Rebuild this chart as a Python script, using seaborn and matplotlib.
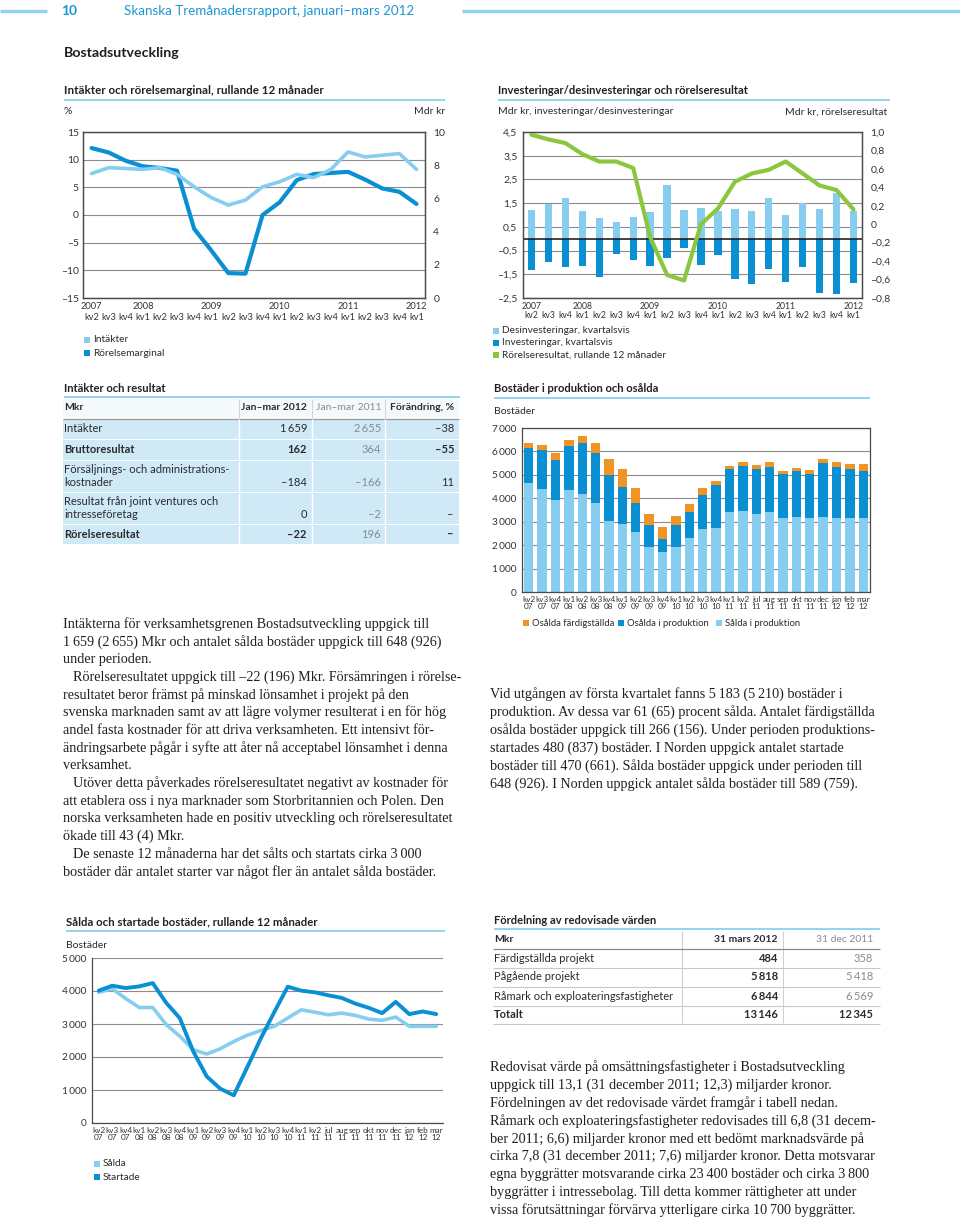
import numpy as np
import pandas as pd
import matplotlib
matplotlib.use("Agg")
import matplotlib.pyplot as plt
import seaborn as sns
from matplotlib.patches import Rectangle
from matplotlib.lines import Line2D

# ---------------- data ----------------
quarters20 = ["kv2", "kv3", "kv4", "kv1", "kv2", "kv3", "kv4", "kv1", "kv2", "kv3",
              "kv4", "kv1", "kv2", "kv3", "kv4", "kv1", "kv2", "kv3", "kv4", "kv1"]
year_marks20 = {0: "2007", 3: "2008", 7: "2009", 11: "2010", 15: "2011", 19: "2012"}

intakter_mdr = [7.5, 7.85, 7.8, 7.75, 7.85, 7.45, 6.7, 6.05, 5.6, 5.9,
                6.7, 7.0, 7.45, 7.25, 7.75, 8.8, 8.5, 8.6, 8.7, 7.75]
rorelsemarginal = [12.1, 11.3, 9.8, 8.8, 8.5, 8.0, -2.5, -6.4, -10.5, -10.6,
                   0.0, 2.3, 6.3, 7.4, 7.6, 7.8, 6.4, 4.8, 4.2, 2.0]

desinvesteringar = [1.2, 1.45, 1.7, 1.17, 0.87, 0.69, 0.9, 1.12, 2.27, 1.22,
                    1.29, 1.15, 1.24, 1.18, 1.72, 0.98, 1.5, 1.25, 1.92, 1.18]
investeringar = [-1.3, -0.98, -1.19, -1.13, -1.62, -0.64, -0.88, -1.13, -0.81, -0.39,
                 -1.09, -0.67, -1.69, -1.89, -1.26, -1.83, -1.19, -2.28, -2.35, -1.86]
rorelseresultat = [0.97, 0.92, 0.88, 0.76, 0.68, 0.68, 0.61, -0.14, -0.55, -0.61,
                   0.0, 0.17, 0.46, 0.55, 0.59, 0.68, 0.55, 0.42, 0.37, 0.16]

period_names = ["kv2", "kv3", "kv4", "kv1", "kv2", "kv3", "kv4", "kv1", "kv2", "kv3",
                "kv4", "kv1", "kv2", "kv3", "kv4", "kv1", "kv2", "jul", "aug", "sep",
                "okt", "nov", "dec", "jan", "feb", "mar"]
period_years = ["07", "07", "07", "08", "08", "08", "08", "09", "09", "09",
                "09", "10", "10", "10", "10", "11", "11", "11", "11", "11",
                "11", "11", "11", "12", "12", "12"]

salda_i_produktion = [4650, 4380, 3930, 4350, 4180, 3780, 3010, 2890, 2580, 1940,
                      1700, 1910, 2300, 2680, 2750, 3430, 3460, 3320, 3400, 3150,
                      3220, 3150, 3220, 3150, 3150, 3162]
osalda_i_produktion = [1500, 1670, 1700, 1870, 2160, 2160, 1980, 1600, 1210, 900,
                       570, 930, 1100, 1460, 1820, 1820, 1930, 1930, 1950, 1870,
                       1940, 1870, 2270, 2170, 2100, 2021]
osalda_fardigstallda = [200, 220, 310, 280, 330, 440, 670, 740, 630, 490,
                        500, 410, 360, 280, 180, 140, 160, 170, 200, 160,
                        140, 170, 170, 230, 230, 266]

salda_12m = [3960, 4070, 3770, 3500, 3500, 2980, 2630, 2220, 2090, 2250,
             2470, 2660, 2800, 2930, 3180, 3430, 3360, 3280, 3330, 3260,
             3150, 3110, 3210, 2930, 2930, 2930]
startade_12m = [4010, 4160, 4090, 4140, 4240, 3640, 3180, 2170, 1410, 1040,
                840, 1690, 2560, 3360, 4130, 4010, 3960, 3870, 3790, 3620,
                3490, 3330, 3670, 3300, 3380, 3300]

tbl1_labels = ["Intäkter", "Bruttoresultat", "Försäljnings- och administrations-\nkostnader",
               "Resultat från joint ventures och\nintresseföretag", "Rörelseresultat"]
tbl1_2012 = ["1\u2009659", "162", "–184", "0", "–22"]
tbl1_2011 = ["2\u2009655", "364", "–166", "–2", "196"]
tbl1_change = ["–38", "–55", "11", "–", "–"]
tbl1_bold = [False, True, False, False, True]

tbl2_labels = ["Färdigställda projekt", "Pågående projekt", "Råmark och exploateringsfastigheter", "Totalt"]
tbl2_2012 = ["484", "5\u2009818", "6\u2009844", "13\u2009146"]
tbl2_2011 = ["358", "5\u2009418", "6\u2009569", "12\u2009345"]

# ---------------- style ----------------
W, H = 960, 1217
sns.set_theme(style="white")
SANS = ["Lato", "DejaVu Sans"]
SERIF = ["Liberation Serif", "DejaVu Serif"]
plt.rcParams["font.family"] = SANS

LIGHT = "#86cdef"
DARK = "#0a8fd3"
GREEN = "#8cc63e"
ORANGE = "#f29423"
GRID = "#8c8c8c"
FRAME = "#4a4a4a"
ULINE = "#93d3ef"
TBG = "#cfe9f7"
TXT = "#2b2b2b"
GREY = "#8a8a8a"
HEAD = "#1b96d3"

fig = plt.figure(figsize=(W / 100, H / 100), dpi=100)
fig.patch.set_facecolor("white")
renderer = fig.canvas.get_renderer()


def fx(x):
    return x / W


def fy(y):
    return 1 - y / H


def add_ax(x0, y0, x1, y1):
    return fig.add_axes([x0 / W, 1 - y1 / H, (x1 - x0) / W, (y1 - y0) / H])


def measure(s, size, family=SANS, weight="normal"):
    t = fig.text(0, 0, s, fontsize=size, family=family, fontweight=weight)
    w = t.get_window_extent(renderer=renderer).width
    t.remove()
    return w


def fit(s, target, family=SANS, weight="normal"):
    return 10 * target / measure(s, 10, family, weight)


def txt(x, y, s, size=7.5, weight="normal", color=TXT, ha="left", va="center", family=SANS, **kw):
    return fig.text(fx(x), fy(y), s, fontsize=size, fontweight=weight, color=color,
                    ha=ha, va=va, family=family, **kw)


def hline(x0, x1, y, color, lw):
    fig.add_artist(Line2D([fx(x0), fx(x1)], [fy(y), fy(y)], color=color, lw=lw,
                          transform=fig.transFigure, solid_capstyle="butt"))


def vline(x, y0, y1, color, lw):
    fig.add_artist(Line2D([fx(x), fx(x)], [fy(y0), fy(y1)], color=color, lw=lw,
                          transform=fig.transFigure, solid_capstyle="butt"))


def rect(x0, y0, x1, y1, color):
    fig.add_artist(Rectangle((fx(x0), fy(y1)), (x1 - x0) / W, (y1 - y0) / H,
                             facecolor=color, edgecolor="none", transform=fig.transFigure))


def legend_item(x, y, color, label, size=7.3):
    rect(x, y - 3, x + 6, y + 3, color)
    txt(x + 9, y, label, size=size)


def title(x, y, s, w, x_end):
    txt(x, y, s, size=fit(s, w, weight="bold"), weight="bold", color="#222222")
    hline(x, x_end, y + 9, ULINE, 1.4)


def box(ax):
    for sp in ax.spines.values():
        sp.set_visible(True)
        sp.set_color(FRAME)
        sp.set_linewidth(0.9)


# ---------------- header ----------------
hline(0, 47, 10.5, ULINE, 2.4)
hline(462, 960, 10.5, ULINE, 2.4)
txt(61, 11, "10", size=fit("10", 16, weight="bold"), weight="bold", color=HEAD)
s = "Skanska Tremånadersrapport, januari–mars 2012"
txt(124, 11, s, size=fit(s, 289), color=HEAD)
txt(64, 53, "Bostadsutveckling", size=fit("Bostadsutveckling", 116, weight="bold"),
    weight="bold", color="#1e1e1e")

# ---------------- chart 1 ----------------
title(64, 91, "Intäkter och rörelsemarginal, rullande 12 månader", 258, 445)
txt(64, 112, "%", size=7.5)
txt(445, 112, "Mdr kr", size=7.5, ha="right")
ax1 = add_ax(83, 132, 425, 298)
x20 = np.arange(20)
df1 = pd.DataFrame({"x": x20, "marg": rorelsemarginal, "int": intakter_mdr})
sns.lineplot(data=df1, x="x", y="marg", ax=ax1, color=DARK, lw=3.0)
ax1.set_ylim(-15, 15)
ax1.set_xlim(-0.5, 19.5)
ax1.set_yticks([-15, -10, -5, 0, 5, 10, 15])
ax1.set_yticklabels(["–15", "–10", "–5", "0", "5", "10", "15"])
ax1.yaxis.grid(True, color=GRID, lw=0.8)
ax1.set_xticks(x20)
ax1.set_xticklabels([f"{year_marks20.get(i, '')}\n{q}" for i, q in enumerate(quarters20)])
ax1.tick_params(axis="y", length=0, pad=3, labelsize=7.5, colors="#333333")
ax1.tick_params(axis="x", length=0, pad=3, labelsize=6.7, colors="#333333")
ax1.set_xlabel("")
ax1.set_ylabel("")
box(ax1)
ax1b = ax1.twinx()
sns.lineplot(data=df1, x="x", y="int", ax=ax1b, color=LIGHT, lw=2.6)
ax1b.set_ylim(0, 10)
ax1b.set_yticks([0, 2, 4, 6, 8, 10])
ax1b.set_yticklabels(["0", "2", "4", "6", "8", "10"])
ax1b.tick_params(axis="y", length=0, pad=6, labelsize=7.5, colors="#333333")
ax1b.set_ylabel("")
ax1b.grid(False)
box(ax1b)
legend_item(84, 340, LIGHT, "Intäkter")
legend_item(84, 353, DARK, "Rörelsemarginal")

# ---------------- chart 2 ----------------
title(498, 91, "Investeringar/desinvesteringar och rörelseresultat", 252, 890)
txt(498, 112, "Mdr kr, investeringar/desinvesteringar", size=7.5)
txt(887, 112, "Mdr kr, rörelseresultat", size=7.5, ha="right")
ax2 = add_ax(523, 132, 862, 298)
sns.barplot(x=x20, y=desinvesteringar, ax=ax2, color=LIGHT, saturation=1, width=0.43, linewidth=0)
sns.barplot(x=x20, y=investeringar, ax=ax2, color=DARK, saturation=1, width=0.43, linewidth=0)
ax2.set_ylim(-2.5, 4.5)
ax2.set_xlim(-0.5, 19.5)
ax2.set_yticks([-2.5, -1.5, -0.5, 0.5, 1.5, 2.5, 3.5, 4.5])
ax2.set_yticklabels(["–2,5", "–1,5", "–0,5", "0,5", "1,5", "2,5", "3,5", "4,5"])
ax2.set_axisbelow(True)
ax2.yaxis.grid(True, color=GRID, lw=0.8)
ax2.axhline(0, color="#111111", lw=1.1, zorder=3)
ax2.set_xticks(x20)
ax2.set_xticklabels([f"{year_marks20.get(i, '')}\n{q}" for i, q in enumerate(quarters20)],
                    linespacing=0.95)
ax2.tick_params(axis="y", length=0, pad=4, labelsize=7.5, colors="#333333")
ax2.tick_params(axis="x", length=0, pad=3, labelsize=6.2, colors="#333333")
ax2.set_xlabel("")
ax2.set_ylabel("")
box(ax2)
ax2b = ax2.twinx()
sns.lineplot(x=x20, y=rorelseresultat, ax=ax2b, color=GREEN, lw=3.0)
ax2b.set_ylim(-0.8, 1.0)
r_ticks = [-0.8, -0.6, -0.4, -0.2, 0, 0.2, 0.4, 0.6, 0.8, 1.0]
ax2b.set_yticks(r_ticks)
ax2b.set_yticklabels(["–0,8", "–0,6", "–0,4", "–0,2", "0", "0,2", "0,4", "0,6", "0,8", "1,0"])
ax2b.tick_params(axis="y", length=0, pad=6, labelsize=7.5, colors="#333333")
ax2b.set_ylabel("")
ax2b.grid(False)
box(ax2b)
legend_item(493, 331, LIGHT, "Desinvesteringar, kvartalsvis")
legend_item(493, 343, DARK, "Investeringar, kvartalsvis")
legend_item(493, 355, GREEN, "Rörelseresultat, rullande 12 månader")

# ---------------- table 1 ----------------
title(64, 388, "Intäkter och resultat", 102, 460)
T1L, T1R = 63, 459
seps1 = [239, 312, 385]
rect(T1L, 399, T1R, 418, "#f4f9fc")
for sx in seps1:
    vline(sx, 399, 418, "#d5d5d5", 0.8)
hline(T1L, T1R, 418.5, "#9a9a9a", 0.9)
txt(64, 408, "Mkr", size=7.5, weight="bold")
txt(307, 408, "Jan–mar 2012", size=7.5, weight="bold", ha="right")
txt(381, 408, "Jan–mar 2011", size=7.5, color=GREY, ha="right")
txt(454, 408, "Förändring, %", size=7.5, weight="bold", ha="right")
rows1 = [(419, 439), (440, 460), (461, 492), (493, 524), (525, 544)]
for i, (y0, y1) in enumerate(rows1):
    rect(T1L, y0, T1R, y1, TBG)
    for sx in seps1:
        vline(sx, y0, y1, "white", 1.0)
    bold = "bold" if tbl1_bold[i] else "normal"
    lines = tbl1_labels[i].split("\n")
    if len(lines) == 1:
        yv = (y0 + y1) / 2
        txt(64, yv, lines[0], size=8, weight=bold)
    else:
        txt(64, y0 + 8.5, lines[0], size=8, weight=bold)
        txt(64, y0 + 22, lines[1], size=8, weight=bold)
        yv = y0 + 22
    txt(307, yv, tbl1_2012[i], size=8, weight=bold, ha="right")
    txt(381, yv, tbl1_2011[i], size=8, color=GREY, ha="right")
    txt(454, yv, tbl1_change[i], size=8, weight=bold, ha="right")

# ---------------- chart 3 ----------------
title(494, 389, "Bostäder i produktion och osålda", 165, 870)
txt(494, 411, "Bostäder", size=7.5)
ax3 = add_ax(522, 428, 870, 592)
n26 = len(period_names)
x26 = np.arange(n26)
s1 = np.array(salda_i_produktion)
s2 = s1 + np.array(osalda_i_produktion)
s3 = s2 + np.array(osalda_fardigstallda)
sns.barplot(x=x26, y=s3, ax=ax3, color=ORANGE, saturation=1, width=0.7, linewidth=0)
sns.barplot(x=x26, y=s2, ax=ax3, color=DARK, saturation=1, width=0.7, linewidth=0)
sns.barplot(x=x26, y=s1, ax=ax3, color=LIGHT, saturation=1, width=0.7, linewidth=0)
ax3.set_ylim(0, 7000)
ax3.set_xlim(-0.5, n26 - 0.5)
ax3.set_yticks(range(0, 7001, 1000))
ax3.set_yticklabels(["0"] + [f"{k}\u2009000" for k in range(1, 8)])
ax3.set_axisbelow(True)
ax3.yaxis.grid(True, color=GRID, lw=0.8)
ax3.set_xticks(x26)
ax3.set_xticklabels([f"{a}\n{b}" for a, b in zip(period_names, period_years)], linespacing=0.95)
ax3.tick_params(axis="y", length=0, pad=4, labelsize=7.3, colors="#333333")
ax3.tick_params(axis="x", length=0, pad=3, labelsize=5.9, colors="#333333")
ax3.set_xlabel("")
ax3.set_ylabel("")
box(ax3)
legend_item(523, 623, ORANGE, "Osålda färdigställda", size=6.8)
legend_item(618, 623, DARK, "Osålda i produktion", size=6.8)
legend_item(716, 623, LIGHT, "Sålda i produktion", size=6.8)

# ---------------- body text ----------------
left_lines = [
    (0, "Intäkterna för verksamhetsgrenen Bostadsutveckling uppgick till"),
    (0, "1\u2009659 (2\u2009655) Mkr och antalet sålda bostäder uppgick till 648 (926)"),
    (0, "under perioden."),
    (1, "Rörelseresultatet uppgick till –22 (196) Mkr. Försämringen i rörelse-"),
    (0, "resultatet beror främst på minskad lönsamhet i projekt på den"),
    (0, "svenska marknaden samt av att lägre volymer resulterat i en för hög"),
    (0, "andel fasta kostnader för att driva verksamheten. Ett intensivt för-"),
    (0, "ändringsarbete pågår i syfte att åter nå acceptabel lönsamhet i denna"),
    (0, "verksamhet."),
    (1, "Utöver detta påverkades rörelseresultatet negativt av kostnader för"),
    (0, "att etablera oss i nya marknader som Storbritannien och Polen. Den"),
    (0, "norska verksamheten hade en positiv utveckling och rörelseresultatet"),
    (0, "ökade till 43 (4) Mkr."),
    (1, "De senaste 12 månaderna har det sålts och startats cirka 3\u2009000"),
    (0, "bostäder där antalet starter var något fler än antalet sålda bostäder."),
]
right1 = [
    "Vid utgången av första kvartalet fanns 5\u2009183 (5\u2009210) bostäder i",
    "produktion. Av dessa var 61 (65) procent sålda. Antalet färdigställda",
    "osålda bostäder uppgick till 266 (156). Under perioden produktions-",
    "startades 480 (837) bostäder. I Norden uppgick antalet startade",
    "bostäder till 470 (661). Sålda bostäder uppgick under perioden till",
    "648 (926). I Norden uppgick antalet sålda bostäder till 589 (759).",
]
right2 = [
    "Redovisat värde på omsättningsfastigheter i Bostadsutveckling",
    "uppgick till 13,1 (31 december 2011; 12,3) miljarder kronor.",
    "Fördelningen av det redovisade värdet framgår i tabell nedan.",
    "Råmark och exploateringsfastigheter redovisades till 6,8 (31 decem-",
    "ber 2011; 6,6) miljarder kronor med ett bedömt marknadsvärde på",
    "cirka 7,8 (31 december 2011; 7,6) miljarder kronor. Detta motsvarar",
    "egna byggrätter motsvarande cirka 23\u2009400 bostäder och cirka 3\u2009800",
    "byggrätter i intressebolag. Till detta kommer rättigheter att under",
    "vissa förutsättningar förvärva ytterligare cirka 10\u2009700 byggrätter.",
]


def block_fit(lines, target):
    widest = max(measure(l, 10, SERIF) for l in lines)
    return 10 * target / widest


bs = min(block_fit([l for ind, l in left_lines if ind == 0], 399),
         block_fit([l for ind, l in left_lines if ind == 1], 389),
         block_fit(right1, 398),
         block_fit(right2, 402))

for i, (ind, s) in enumerate(left_lines):
    txt(63 + ind * 10, 624 + i * 17.7, s, size=bs, family=SERIF, color="#231f20")
for i, s in enumerate(right1):
    txt(490, 694 + i * 18, s, size=bs, family=SERIF, color="#231f20")
for i, s in enumerate(right2):
    txt(490, 1067 + i * 17.9, s, size=bs, family=SERIF, color="#231f20")

# ---------------- chart 4 ----------------
title(66, 922, "Sålda och startade bostäder, rullande 12 månader", 250, 445)
txt(66, 945, "Bostäder", size=7.5)
ax4 = add_ax(92, 958, 443, 1123)
df4 = pd.DataFrame({"x": x26, "salda": salda_12m, "startade": startade_12m})
sns.lineplot(data=df4, x="x", y="salda", ax=ax4, color=LIGHT, lw=2.6)
sns.lineplot(data=df4, x="x", y="startade", ax=ax4, color=DARK, lw=2.8)
ax4.set_ylim(0, 5000)
ax4.set_xlim(-0.5, n26 - 0.5)
ax4.set_yticks(range(0, 5001, 1000))
ax4.set_yticklabels(["0"] + [f"{k}\u2009000" for k in range(1, 6)])
ax4.yaxis.grid(True, color=GRID, lw=0.8)
ax4.set_xticks(x26)
ax4.set_xticklabels([f"{a}\n{b}" for a, b in zip(period_names, period_years)], linespacing=0.95)
ax4.tick_params(axis="y", length=0, pad=4, labelsize=7.3, colors="#333333")
ax4.tick_params(axis="x", length=0, pad=3, labelsize=5.9, colors="#333333")
ax4.set_xlabel("")
ax4.set_ylabel("")
for k, sp in ax4.spines.items():
    sp.set_visible(k in ("left", "bottom"))
    sp.set_color(FRAME)
    sp.set_linewidth(0.9)
legend_item(94, 1164, LIGHT, "Sålda")
legend_item(94, 1177, DARK, "Startade")

# ---------------- table 2 ----------------
title(494, 920, "Fördelning av redovisade värden", 163, 880)
T2L, T2R = 493, 880
seps2 = [682, 783]
for sx in seps2:
    vline(sx, 931, 1023, "#d0d0d0", 0.8)
txt(494, 940, "Mkr", size=7.5, weight="bold")
txt(778, 940, "31 mars 2012", size=7.5, weight="bold", ha="right")
txt(873, 940, "31 dec 2011", size=7.5, color=GREY, ha="right")
hline(T2L, T2R, 948.5, "#8a8a8a", 0.9)
row_y2 = [958, 977, 996, 1014]
for i, yv in enumerate(row_y2):
    bold = "bold" if i == len(row_y2) - 1 else "normal"
    txt(494, yv, tbl2_labels[i], size=8, weight=bold)
    txt(778, yv, tbl2_2012[i], size=8, weight="bold", ha="right")
    txt(873, yv, tbl2_2011[i], size=8, weight=bold, color=GREY if bold == "normal" else TXT, ha="right")
    hline(T2L, T2R, yv + 9.5, "#c8c8c8", 0.8)

fig.savefig("out.png", dpi=100, facecolor="white")
